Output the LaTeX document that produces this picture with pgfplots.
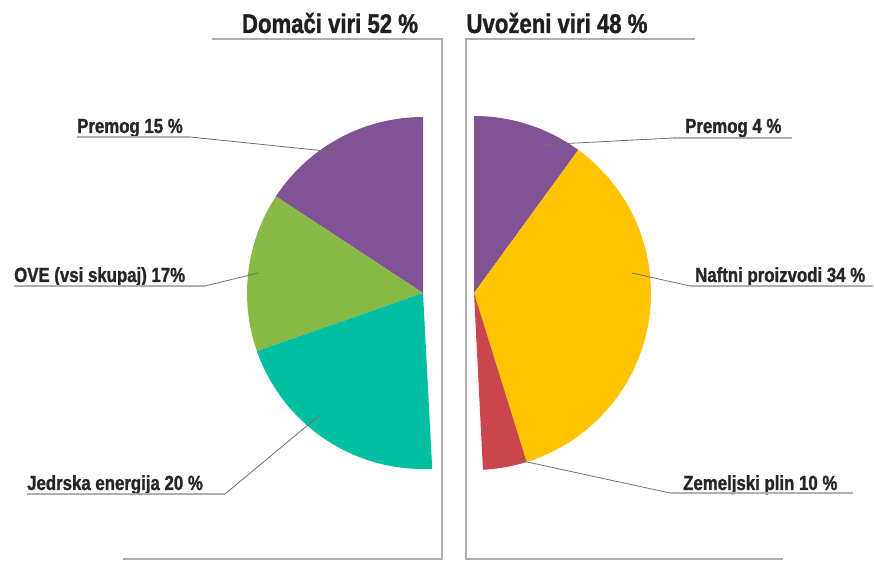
\documentclass[border=0pt]{standalone}
\usepackage{pgfplots}
\pgfplotsset{compat=1.18}
\usepackage{fontspec}
\setmainfont{Liberation Sans}[FakeStretch=0.82, BoldFeatures={FakeBold=1.2}]
\definecolor{cPurple}{RGB}{128,83,148}
\definecolor{cGreen}{RGB}{137,186,70}
\definecolor{cTeal}{RGB}{0,190,160}
\definecolor{cYellow}{RGB}{255,195,0}
\definecolor{cRed}{RGB}{200,70,76}
\definecolor{cFrame}{RGB}{175,175,175}
\definecolor{cLead}{RGB}{110,110,110}
\begin{document}
\begin{tikzpicture}
\begin{axis}[
  x=1pt, y=1pt, xmin=0, xmax=874, ymin=0, ymax=561,
  scale only axis, hide axis, clip=false,
]
\path (0,0) rectangle (874,561);
% left half pie (domestic), wedge angles in degrees as drawn
\fill[cPurple] (423,268) -- ++(90:176pt) arc[start angle=90,end angle=146.7,radius=176pt] -- cycle;
\fill[cGreen] (423,268) -- ++(146.7:176pt) arc[start angle=146.7,end angle=199.3,radius=176pt] -- cycle;
\fill[cTeal] (423,268) -- ++(199.3:176pt) arc[start angle=199.3,end angle=273,radius=176pt] -- cycle;
% right half pie (imported)
\fill[cPurple] (474,268) -- ++(90:177pt) arc[start angle=90,end angle=53.9,radius=177pt] -- cycle;
\fill[cYellow] (474,268) -- ++(53.9:177pt) arc[start angle=53.9,end angle=-72.7,radius=177pt] -- cycle;
\fill[cRed] (474,268) -- ++(-72.7:177pt) arc[start angle=-72.7,end angle=-87.1,radius=177pt] -- cycle;
% frames
\draw[cFrame, line width=1.5pt] (212,522) -- (442,522) -- (442,2) -- (123,2);
\draw[cFrame, line width=1.5pt] (695,522) -- (466,522) -- (466,2) -- (783,2);
% titles
\node[anchor=base, inner sep=0pt, font=\fontsize{27}{30}\selectfont\bfseries, text=black!88] at (330,528) {Domači viri 52 \%};
\node[anchor=base, inner sep=0pt, font=\fontsize{27}{30}\selectfont\bfseries, text=black!88] at (557,528) {Uvoženi viri 48 \%};
% labels
\begin{scope}[every node/.style={inner sep=0pt, font=\fontsize{20.5}{23}\selectfont\bfseries, text=black!85}]
\node[anchor=base west] at (77,428) {Premog 15 \%};
\node[anchor=base west] at (14,279) {OVE (vsi skupaj) 17\%};
\node[anchor=base west] at (27,71) {Jedrska energija 20 \%};
\node[anchor=base west] at (685,428) {Premog 4 \%};
\node[anchor=base west] at (695,279) {Naftni proizvodi 34 \%};
\node[anchor=base west] at (683,71) {Zemeljski plin 10 \%};
\end{scope}
% underlines
\draw[cFrame, line width=1.2pt] (77,424) -- (190,424);
\draw[cFrame, line width=1.2pt] (14,275) -- (205,275);
\draw[cFrame, line width=1.2pt] (27,67) -- (225,67);
\draw[cFrame, line width=1.2pt] (673,423) -- (792,423);
\draw[cFrame, line width=1.2pt] (690,275) -- (873,275);
\draw[cFrame, line width=1.2pt] (670,68) -- (853,68);
% leader lines
\draw[cLead, line width=0.8pt] (190,424) -- (335,409);
\draw[cLead, line width=0.8pt] (205,275) -- (258,288);
\draw[cLead, line width=0.8pt] (225,67) -- (320,146);
\draw[cLead, line width=0.8pt] (673,423) -- (538,416);
\draw[cLead, line width=0.8pt] (690,275) -- (632,288);
\draw[cLead, line width=0.8pt] (670,68) -- (518,101);
\end{axis}
\end{tikzpicture}
\end{document}
